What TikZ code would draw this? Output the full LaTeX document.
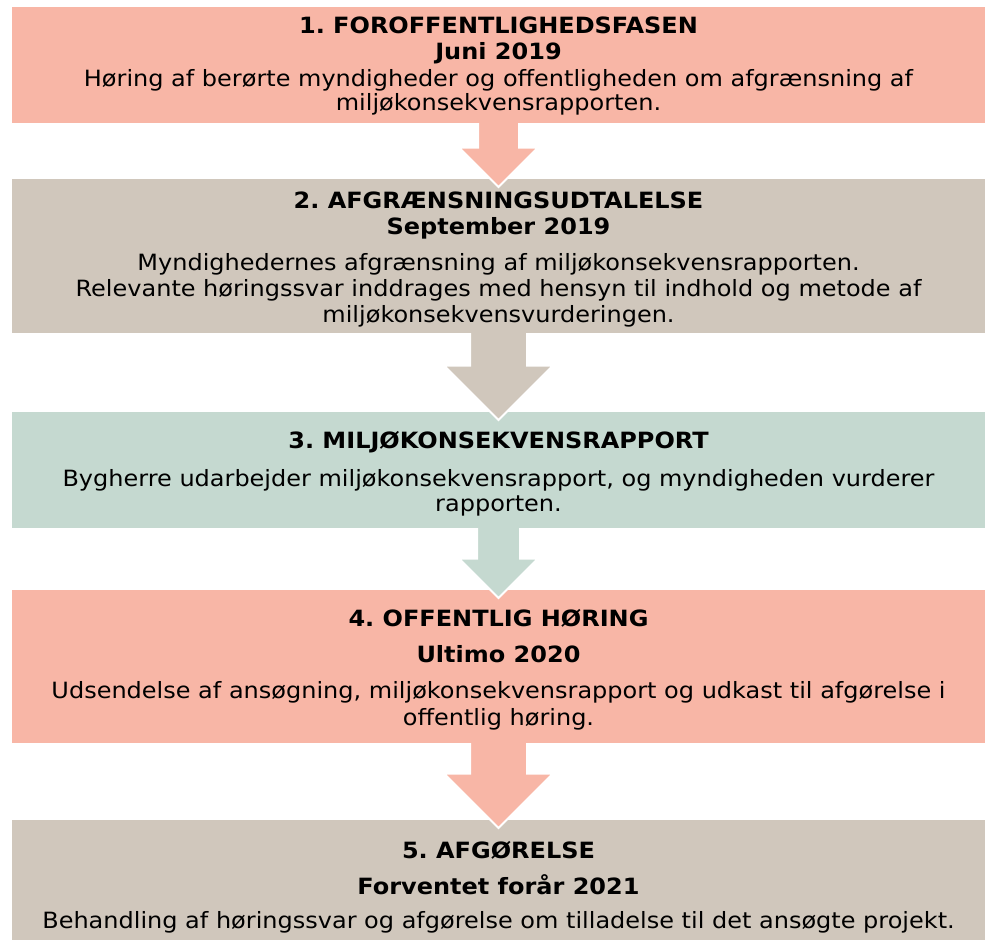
\documentclass[tikz,border=0pt]{standalone}
\usepackage{fontspec}
\setmainfont[FakeStretch=1.07]{DejaVu Sans}
\usetikzlibrary{calc}
\definecolor{salmon}{RGB}{248,182,166}
\definecolor{beige}{RGB}{208,199,188}
\definecolor{sage}{RGB}{197,217,208}
\newcommand{\fs}{22.5}
\frenchspacing
\tikzset{
  boxnode/.style={draw=none, rectangle, inner sep=0pt, outer sep=0pt, minimum width=973bp, anchor=north west},
  txt/.style={anchor=base, inner sep=0pt, font=\fontsize{\fs}{\fs}\selectfont},
  ttl/.style={txt, font=\fontsize{\fs}{\fs}\selectfont\bfseries},
}
\newcommand{\flowarrow}[5]{%
  \fill[#5] let \p1=(#1.south), \p2=(#2.north) in
    (\x1-#3bp,\y1) -- (\x1-#3bp,\y2-8bp+#4bp) -- (\x1-#4bp,\y2-8bp+#4bp) -- (\x1,\y2-8bp)
    -- (\x1+#4bp,\y2-8bp+#4bp) -- (\x1+#3bp,\y2-8bp+#4bp) -- (\x1+#3bp,\y1) -- cycle;
  \draw[white, line width=2bp, line join=miter] let \p1=(#1.south), \p2=(#2.north) in
    (\x1-#3bp,\y1) -- (\x1-#3bp,\y2-8bp+#4bp) -- (\x1-#4bp,\y2-8bp+#4bp) -- (\x1,\y2-8bp)
    -- (\x1+#4bp,\y2-8bp+#4bp) -- (\x1+#3bp,\y2-8bp+#4bp) -- (\x1+#3bp,\y1);
}
\begin{document}
\begin{tikzpicture}[x=1bp,y=-1bp]
\useasboundingbox (0,0) rectangle (985,940);
\begin{scope}
\clip (0,0) rectangle (985,940);
% boxes
\node[boxnode, fill=salmon, minimum height=116bp] (b1) at (12,7) {};
\node[boxnode, fill=beige,  minimum height=154bp] (b2) at (12,179) {};
\node[boxnode, fill=sage,   minimum height=116bp] (b3) at (12,412) {};
\node[boxnode, fill=salmon, minimum height=153bp] (b4) at (12,590) {};
\node[boxnode, fill=beige,  minimum height=130bp] (b5) at (12,820) {};
% arrows
\flowarrow{b1}{b2}{20.5}{39.5}{salmon}
\flowarrow{b2}{b3}{28.5}{54.5}{beige}
\flowarrow{b3}{b4}{21.5}{39.5}{sage}
\flowarrow{b4}{b5}{28.5}{54.5}{salmon}
\end{scope}
% texts box 1
\node[ttl] (t1a) at (498.5,33) {1. FOROFFENTLIGHEDSFASEN};
\node[ttl] (t1b) at (498.5,59) {Juni 2019};
\node[txt] (t1c) at (498.5,86) {Høring af berørte myndigheder og offentligheden om afgrænsning af};
\node[txt] (t1d) at (498.5,110.5) {miljøkonsekvensrapporten.};
% box 2
\node[ttl] (t2a) at (498.5,208) {2. AFGRÆNSNINGSUDTALELSE};
\node[ttl] (t2b) at (498.5,234) {September 2019};
\node[txt] (t2c) at (498.5,270) {Myndighedernes afgrænsning af miljøkonsekvensrapporten.};
\node[txt] (t2d) at (498.5,296.5) {Relevante høringssvar inddrages med hensyn til indhold og metode af};
\node[txt] (t2e) at (498.5,322.5) {miljøkonsekvensvurderingen.};
% box 3
\node[ttl] (t3a) at (498.5,448) {3. MILJØKONSEKVENSRAPPORT};
\node[txt] (t3b) at (498.5,486) {Bygherre udarbejder miljøkonsekvensrapport, og myndigheden vurderer};
\node[txt] (t3c) at (498.5,511) {rapporten.};
% box 4
\node[ttl] (t4a) at (498.5,626) {4. OFFENTLIG HØRING};
\node[ttl] (t4b) at (498.5,662) {Ultimo 2020};
\node[txt] (t4c) at (498.5,698) {Udsendelse af ansøgning, miljøkonsekvensrapport og udkast til afgørelse i};
\node[txt] (t4d) at (498.5,725) {offentlig høring.};
% box 5
\node[ttl] (t5a) at (498.5,858) {5. AFGØRELSE};
\node[ttl] (t5b) at (498.5,894) {Forventet forår 2021};
\node[txt] (t5c) at (498.5,928) {Behandling af høringssvar og afgørelse om tilladelse til det ansøgte projekt.};
\end{tikzpicture}
\end{document}
